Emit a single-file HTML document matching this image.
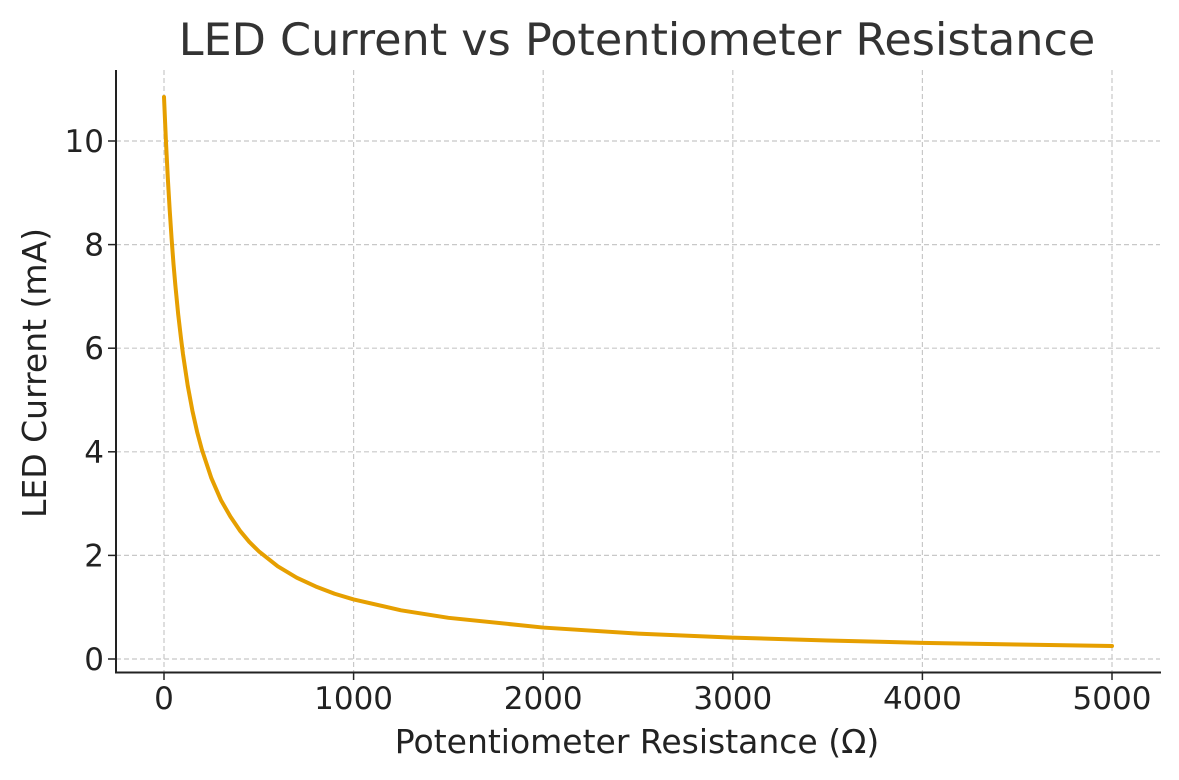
<!DOCTYPE html>
<html><head><meta charset="utf-8"><style>
html,body{margin:0;padding:0;background:#fff;}
svg{display:block;font-family:"DejaVu Sans","Liberation Sans",sans-serif;}
</style></head><body>
<svg id="chart" width="1179" height="780" viewBox="0 0 1179 780" xmlns="http://www.w3.org/2000/svg">
<text x="637" y="55" text-anchor="middle" font-size="44.5" fill="#333">LED Current vs Potentiometer Resistance</text>
<g id="grid"></g>
<g id="ticks"></g>
<path id="curve" fill="none" stroke="#E69F00" stroke-width="4" stroke-linejoin="round" stroke-linecap="round"/>
<line x1="116" y1="70" x2="116" y2="673" stroke="#222" stroke-width="2"/>
<line x1="115" y1="672.5" x2="1161" y2="672.5" stroke="#222" stroke-width="2"/>
<text x="637" y="753" text-anchor="middle" font-size="33" fill="#222">Potentiometer Resistance (Ω)</text>
<text transform="translate(46,373) rotate(-90)" text-anchor="middle" font-size="33" fill="#222">LED Current (mA)</text>
</svg>
<script>
const resistance=[0,10,20,30,40,50,60,75,90,100,125,150,175,200,250,300,350,400,450,500,600,700,800,900,1000,1250,1500,2000,2500,3000,3500,4000,4500,5000];
const current=[10.85,10.01,9.29,8.67,8.12,7.63,7.21,6.65,6.18,5.89,5.28,4.79,4.38,4.04,3.49,3.07,2.75,2.48,2.26,2.08,1.79,1.57,1.40,1.26,1.15,0.94,0.795,0.607,0.491,0.413,0.356,0.312,0.279,0.251];
const xTicks=[0,1000,2000,3000,4000,5000];
const yTicks=[0,2,4,6,8,10];
const NS="http://www.w3.org/2000/svg";
const xs=v=>164+v*(1112-164)/5000;
const ys=v=>659-v*(659-141)/10;
const grid=document.getElementById('grid'),ticks=document.getElementById('ticks');
function mk(tag,attrs,parent){const e=document.createElementNS(NS,tag);for(const k in attrs)e.setAttribute(k,attrs[k]);parent.appendChild(e);return e;}
xTicks.forEach(t=>{
 const g=mk('line',{x1:xs(t),x2:xs(t),y1:70,y2:672,stroke:'#c8c8c8','stroke-width':1.2,'stroke-dasharray':'5,3'},grid);
 
 
 const tk=mk('line',{x1:xs(t),x2:xs(t),y1:672,y2:680,stroke:'#222','stroke-width':1.5},ticks);
 
 
 const tx=mk('text',{x:xs(t),y:709,'text-anchor':'middle','font-size':31,fill:'#222'},ticks);
 
 
 tx.textContent=t;
});
yTicks.forEach(t=>{
 const g=mk('line',{x1:116,x2:1160,y1:ys(t),y2:ys(t),stroke:'#c8c8c8','stroke-width':1.2,'stroke-dasharray':'5,3'},grid);
 
 
 const tk=mk('line',{x1:108,x2:116,y1:ys(t),y2:ys(t),stroke:'#222','stroke-width':1.5},ticks);
 
 
 const tx=mk('text',{x:104,y:ys(t)+11,'text-anchor':'end','font-size':31,fill:'#222'},ticks);
 
 
 tx.textContent=t;
});
let d='';
resistance.forEach((r,i)=>{d+=(i?'L':'M')+xs(r).toFixed(2)+','+ys(current[i]).toFixed(2);});
document.getElementById('curve').setAttribute('d',d);
</script>
</body></html>
